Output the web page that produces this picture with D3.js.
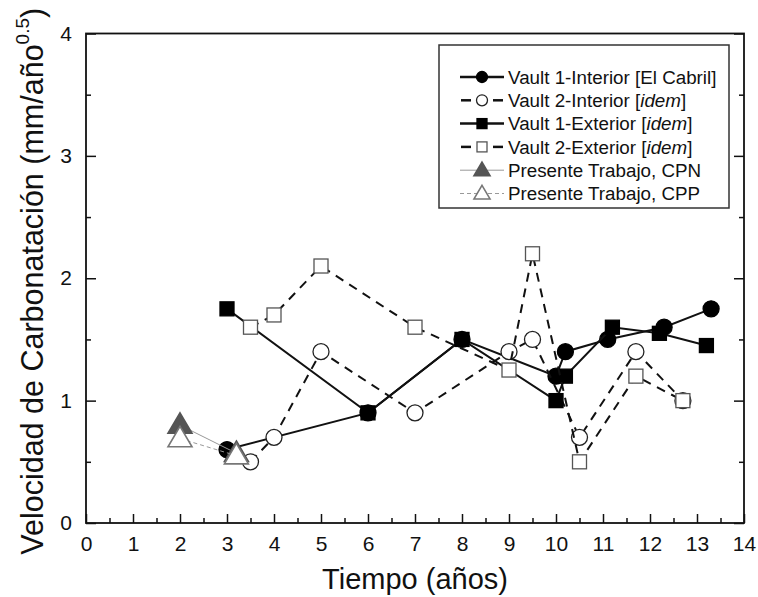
<!DOCTYPE html>
<html>
<head>
<meta charset="utf-8">
<script src="https://cdn.jsdelivr.net/npm/d3@7"></script>
<style>
    body { margin: 0; background: #fff; }
    text { font-family: Arial, "Liberation Sans", sans-serif; fill: #111; }
</style>
</head>
<body>
<div id="chart"></div>
<script>

// data: [tiempo (años), velocidad]
const vault1Interior = [[3, 0.6], [6, 0.9], [8, 1.5], [10, 1.2], [10.2, 1.4], [11.1, 1.5], [12.3, 1.6], [13.3, 1.75]];
const vault2Interior = [[3.5, 0.5], [4, 0.7], [5, 1.4], [7, 0.9], [9, 1.4], [9.5, 1.5], [10.5, 0.7], [11.7, 1.4], [12.7, 1.0]];
const vault1Exterior = [[3, 1.75], [6, 0.9], [8, 1.5], [10, 1.0], [10.2, 1.2], [11.2, 1.6], [12.2, 1.55], [13.2, 1.45]];
const vault2Exterior = [[3.5, 1.6], [4, 1.7], [5, 2.1], [7, 1.6], [9, 1.25], [9.5, 2.2], [10.5, 0.5], [11.7, 1.2], [12.7, 1.0]];
const trabajoCPN = [[2, 0.8], [3.2, 0.57]];
const trabajoCPP = [[2, 0.69], [3.2, 0.55]];

const seriesNames = [
    ['Vault 1-Interior [El Cabril]'],
    ['Vault 2-Interior [', 'idem', ']'],
    ['Vault 1-Exterior [', 'idem', ']'],
    ['Vault 2-Exterior [', 'idem', ']'],
    ['Presente Trabajo, CPN'],
    ['Presente Trabajo, CPP']
];

const xTicks = d3.range(0, 15, 1);
const yTicks = d3.range(0, 5, 1);

// styles per series
const styles = [
    { data: vault1Interior, shape: 'circle', fill: '#000', stroke: '#000', line: '#111', width: 2, dash: null, size: 8 },
    { data: vault2Interior, shape: 'circle', fill: '#fff', stroke: '#222', line: '#111', width: 2, dash: '9,7', size: 8 },
    { data: vault1Exterior, shape: 'square', fill: '#000', stroke: '#000', line: '#111', width: 2, dash: null, size: 7 },
    { data: vault2Exterior, shape: 'square', fill: '#fff', stroke: '#555', line: '#111', width: 2, dash: '9,7', size: 7 },
    { data: trabajoCPN, shape: 'triangle', fill: '#555', stroke: '#555', line: '#999', width: 1, dash: null, size: 12 },
    { data: trabajoCPP, shape: 'triangle', fill: '#fff', stroke: '#777', line: '#999', width: 1, dash: '4,3', size: 12 }
];

const margins = { top: 33.5, bottom: 74, left: 86, right: 14 };
const width = 758;
const height = 597;
const innerW = width - margins.left - margins.right;
const innerH = height - margins.top - margins.bottom;

const svg = d3.select('#chart')
    .append('svg')
    .attr('width', width)
    .attr('height', height);

const chartGroup = svg.append('g')
    .attr('transform', `translate(${margins.left},${margins.top})`);

// scales
const xScale = d3.scaleLinear().domain([0, 14]).range([0, innerW]);
const yScale = d3.scaleLinear().domain([0, 4]).range([innerH, 0]);

// axes (ticks pointing inward)
const minorX = d3.range(0.5, 14, 1);
const minorY = d3.range(0.5, 4, 1);

function style_axis(g) {
    g.select('.domain').remove();
    g.selectAll('.tick line').attr('stroke', '#111').attr('stroke-width', 1.5);
    g.selectAll('.tick text').attr('font-size', 21).style('fill', '#111');
}

chartGroup.append('g')
    .attr('transform', `translate(0,${innerH})`)
    .call(d3.axisBottom(xScale).tickValues(xTicks).tickSize(-9).tickPadding(13).tickFormat(d3.format('d')))
    .call(style_axis);

chartGroup.append('g')
    .attr('transform', `translate(0,${innerH})`)
    .call(d3.axisBottom(xScale).tickValues(minorX).tickSize(-5).tickFormat(''))
    .call(style_axis);

chartGroup.append('g')
    .call(d3.axisLeft(yScale).tickValues(yTicks).tickSize(-10).tickPadding(14).tickFormat(d3.format('d')))
    .call(style_axis);

chartGroup.append('g')
    .call(d3.axisLeft(yScale).tickValues(minorY).tickSize(-5).tickFormat(''))
    .call(style_axis);

chartGroup.append('g')
    .attr('transform', `translate(${innerW},0)`)
    .call(d3.axisRight(yScale).tickValues(yTicks).tickSize(-10).tickFormat(''))
    .call(style_axis);

chartGroup.append('g')
    .attr('transform', `translate(${innerW},0)`)
    .call(d3.axisRight(yScale).tickValues(minorY).tickSize(-5).tickFormat(''))
    .call(style_axis);

// frame
chartGroup.append('rect')
    .attr('width', innerW)
    .attr('height', innerH)
    .attr('fill', 'none')
    .attr('stroke', '#111')
    .attr('stroke-width', 1.8);

// markers
function draw_marker(g, shape, x, y, size, fill, stroke) {
    if (shape === 'circle') {
        g.append('circle').attr('cx', x).attr('cy', y).attr('r', size)
            .attr('fill', fill).attr('stroke', stroke).attr('stroke-width', 1.3);
    } else if (shape === 'square') {
        g.append('rect').attr('x', x - size).attr('y', y - size)
            .attr('width', size * 2).attr('height', size * 2)
            .attr('fill', fill).attr('stroke', stroke).attr('stroke-width', 1.3);
    } else {
        const h = size * 1.7;
        g.append('path')
            .attr('d', `M${x},${y - h * 0.6}L${x + size},${y + h * 0.4}L${x - size},${y + h * 0.4}Z`)
            .attr('fill', fill).attr('stroke', stroke).attr('stroke-width', 1.6);
    }
}

const line = d3.line()
    .x(d => xScale(d[0]))
    .y(d => yScale(d[1]));

styles.forEach(s => {
    const g = chartGroup.append('g');
    g.append('path')
        .datum(s.data)
        .attr('fill', 'none')
        .attr('stroke', s.line)
        .attr('stroke-width', s.width)
        .attr('stroke-dasharray', s.dash)
        .attr('d', line);
    s.data.forEach(d => draw_marker(g, s.shape, xScale(d[0]), yScale(d[1]), s.size, s.fill, s.stroke));
});

// legend
const legend = svg.append('g').attr('transform', 'translate(439,45)');
legend.append('rect')
    .attr('width', 290)
    .attr('height', 163)
    .attr('fill', '#fff')
    .attr('stroke', '#333')
    .attr('stroke-width', 1.5);

const legendSizes = [5.5, 5.5, 5, 5, 8, 8];

styles.forEach((s, i) => {
    const y = 32 + i * 23.3;
    const row = legend.append('g');
    if (s.dash && s.width === 2) {
        row.append('line').attr('x1', 22).attr('x2', 32).attr('y1', y).attr('y2', y)
            .attr('stroke', s.line).attr('stroke-width', 2.5);
        row.append('line').attr('x1', 54).attr('x2', 64).attr('y1', y).attr('y2', y)
            .attr('stroke', s.line).attr('stroke-width', 2.5);
    } else {
        row.append('line').attr('x1', 21).attr('x2', 65).attr('y1', y).attr('y2', y)
            .attr('stroke', s.line).attr('stroke-width', s.width === 2 ? 2.5 : 1)
            .attr('stroke-dasharray', s.dash);
    }
    draw_marker(row, s.shape, 43, y, legendSizes[i], s.fill, s.stroke);

    const label = row.append('text')
        .attr('x', 69)
        .attr('y', y)
        .attr('dy', '0.36em')
        .attr('font-size', 18.8);
    seriesNames[i].forEach((part, j) => {
        label.append('tspan')
            .attr('font-style', j === 1 ? 'italic' : 'normal')
            .text(part);
    });
});

// axis titles
svg.append('text')
    .attr('x', margins.left + innerW / 2)
    .attr('y', 589)
    .attr('text-anchor', 'middle')
    .attr('font-size', 29)
    .text('Tiempo (años)');

const yTitle = svg.append('text')
    .attr('transform', `translate(43,${margins.top + innerH / 2 + 3}) rotate(-90)`)
    .attr('text-anchor', 'middle')
    .attr('font-size', 30.5);
yTitle.append('tspan').text('Velocidad de Carbonatación (mm/año');
yTitle.append('tspan').attr('font-size', 19).attr('dy', -14).text('0.5');
yTitle.append('tspan').attr('dy', 14).text(')');

</script>
</body>
</html>
